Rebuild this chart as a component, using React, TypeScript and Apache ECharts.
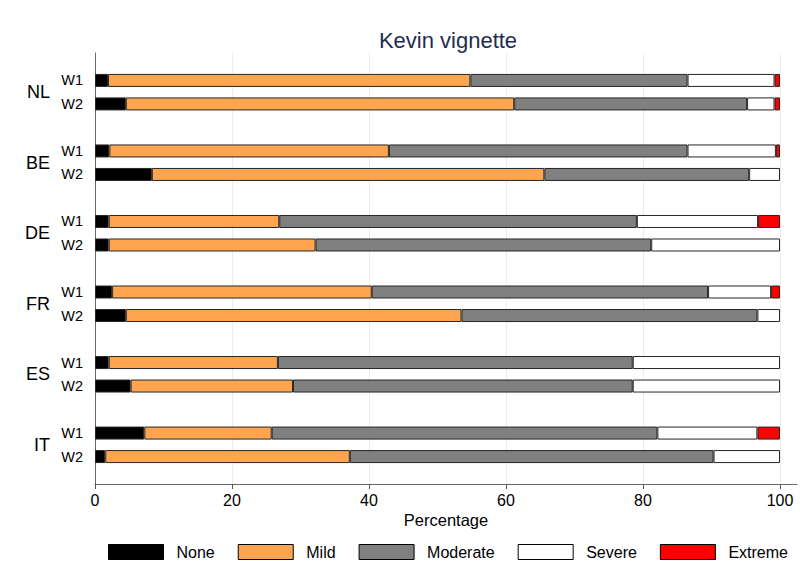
import React, { useEffect, useRef } from "react";
import * as echarts from "echarts";

// ---- data ----
const countries = ["NL", "BE", "DE", "FR", "ES", "IT"];
const waves = ["W1", "W2"];
const categories = ["None", "Mild", "Moderate", "Severe", "Extreme"];
const colors = ["#000000", "#ffa54f", "#808080", "#ffffff", "#ff0000"];
// order: NL W1, NL W2, BE W1, BE W2, DE W1, DE W2, FR W1, FR W2, ES W1, ES W2, IT W1, IT W2
const none = [1.9, 4.5, 2.1, 8.3, 2.0, 2.0, 2.5, 4.5, 2.0, 5.2, 7.2, 1.5];
const mild = [52.9, 56.7, 40.8, 57.3, 24.9, 30.2, 37.9, 49.0, 24.7, 23.7, 18.6, 35.7];
const moderate = [31.7, 34.0, 43.6, 29.9, 52.2, 49.0, 49.1, 43.2, 51.8, 49.6, 56.3, 53.1];
const severe = [12.7, 4.0, 12.9, 4.5, 17.7, 18.8, 9.2, 3.3, 21.5, 21.5, 14.6, 9.7];
const extreme = [0.8, 0.8, 0.6, 0, 3.2, 0, 1.3, 0, 0, 0, 3.3, 0];
const xTickValues = [0, 20, 40, 60, 80, 100];

const seriesValues = [none, mild, moderate, severe, extreme];

// slot layout on the category axis
const SLOTS = 55;
const PERIOD = 9;
const FIRST = 3;
const WAVE_STEP = 3;

const slotOf = (g: number, w: number) => FIRST + g * PERIOD + w * WAVE_STEP;

const FONT = "'Liberation Sans', Arial, Helvetica, sans-serif";

export default function App() {
  const ref = useRef<HTMLDivElement>(null);

  useEffect(() => {
    if (!ref.current) return;
    const chart = echarts.init(ref.current, null, { renderer: "svg" });

    const waveLabels: string[] = new Array(SLOTS).fill("");
    countries.forEach((_, g) =>
      waves.forEach((w, wi) => {
        waveLabels[slotOf(g, wi)] = w;
      })
    );
    const countryLabels: string[] = new Array(SLOTS + 1).fill("");
    countries.forEach((c, g) => {
      countryLabels[FIRST + 2 + g * PERIOD] = c;
    });

    const series = categories.map((name, si) => {
      const data: (number | null)[] = new Array(SLOTS).fill(null);
      countries.forEach((_, g) =>
        waves.forEach((__, wi) => {
          const v = seriesValues[si][g * 2 + wi];
          data[slotOf(g, wi)] = v > 0 ? v : null;
        })
      );
      return {
        name,
        type: "bar",
        stack: "total",
        xAxisIndex: 0,
        yAxisIndex: 0,
        barWidth: 13,
        data,
        itemStyle: {
          color: colors[si],
          borderColor: "#262626",
          borderWidth: 1,
        },
        emphasis: { disabled: true },
      };
    });

    const gridTop = 53;
    const gridHeight = 431;

    chart.setOption({
      animation: false,
      backgroundColor: "#ffffff",
      textStyle: { fontFamily: FONT },
      title: {
        text: "Kevin vignette",
        left: 443,
        textAlign: "center",
        top: 24,
        textStyle: {
          fontSize: 22,
          fontWeight: "normal",
          color: "#1f2d50",
          fontFamily: FONT,
        },
      },
      legend: {
        data: categories.map((c) => ({
          name: c,
          itemStyle: { borderColor: "#000000", borderWidth: 1 },
        })),
        left: 103,
        top: 539,
        icon: "rect",
        itemWidth: 55,
        itemHeight: 15,
        itemGap: 23,
        selectedMode: false,
        textStyle: {
          fontSize: 16,
          color: "#000000",
          fontFamily: FONT,
          padding: [0, 0, 0, 8],
        },
      },
      grid: [
        { left: 95, top: gridTop, width: 685, height: gridHeight, outerBoundsMode: "none" },
        { left: 95, top: gridTop, width: 702, height: gridHeight, outerBoundsMode: "none" },
      ],
      xAxis: [
        {
          type: "value",
          gridIndex: 0,
          min: xTickValues[0],
          max: xTickValues[xTickValues.length - 1],
          interval: 20,
          axisLine: { show: false },
          axisTick: { show: true, length: 5, lineStyle: { color: "#555555" } },
          axisLabel: { fontSize: 16, color: "#000000", margin: 8, fontFamily: FONT },
          splitLine: { show: true, lineStyle: { color: "#e4edf0", width: 1 } },
        },
        {
          type: "value",
          gridIndex: 1,
          min: 0,
          max: 1,
          axisLine: { show: true, onZero: false, lineStyle: { color: "#666666", width: 1 } },
          axisTick: { show: false },
          axisLabel: { show: false },
          splitLine: { show: false },
          name: "Percentage",
          nameLocation: "middle",
          nameGap: 27,
          nameTextStyle: { fontSize: 16.5, color: "#000000", fontFamily: FONT },
        },
      ],
      yAxis: [
        {
          type: "category",
          gridIndex: 0,
          inverse: true,
          data: waveLabels,
          axisLine: { show: true, lineStyle: { color: "#6a6a6a", width: 1 } },
          axisTick: { show: false },
          axisLabel: {
            interval: 0,
            fontSize: 14.5,
            color: "#000000",
            margin: 12,
            fontFamily: FONT,
          },
          splitLine: { show: false },
        },
        {
          type: "category",
          gridIndex: 0,
          position: "left",
          inverse: true,
          boundaryGap: false,
          data: countryLabels,
          axisLine: { show: false },
          axisTick: { show: false },
          axisLabel: {
            interval: 0,
            fontSize: 18,
            color: "#000000",
            margin: 45,
            fontFamily: FONT,
          },
          splitLine: { show: false },
        },
        {
          type: "value",
          gridIndex: 1,
          min: 0,
          max: 1,
          show: false,
        },
      ],
      series,
    });

    return () => {
      chart.dispose();
    };
  }, []);

  return (
    <div
      ref={ref}
      style={{ position: "absolute", left: 0, top: 0, width: 803, height: 586 }}
    />
  );
}
